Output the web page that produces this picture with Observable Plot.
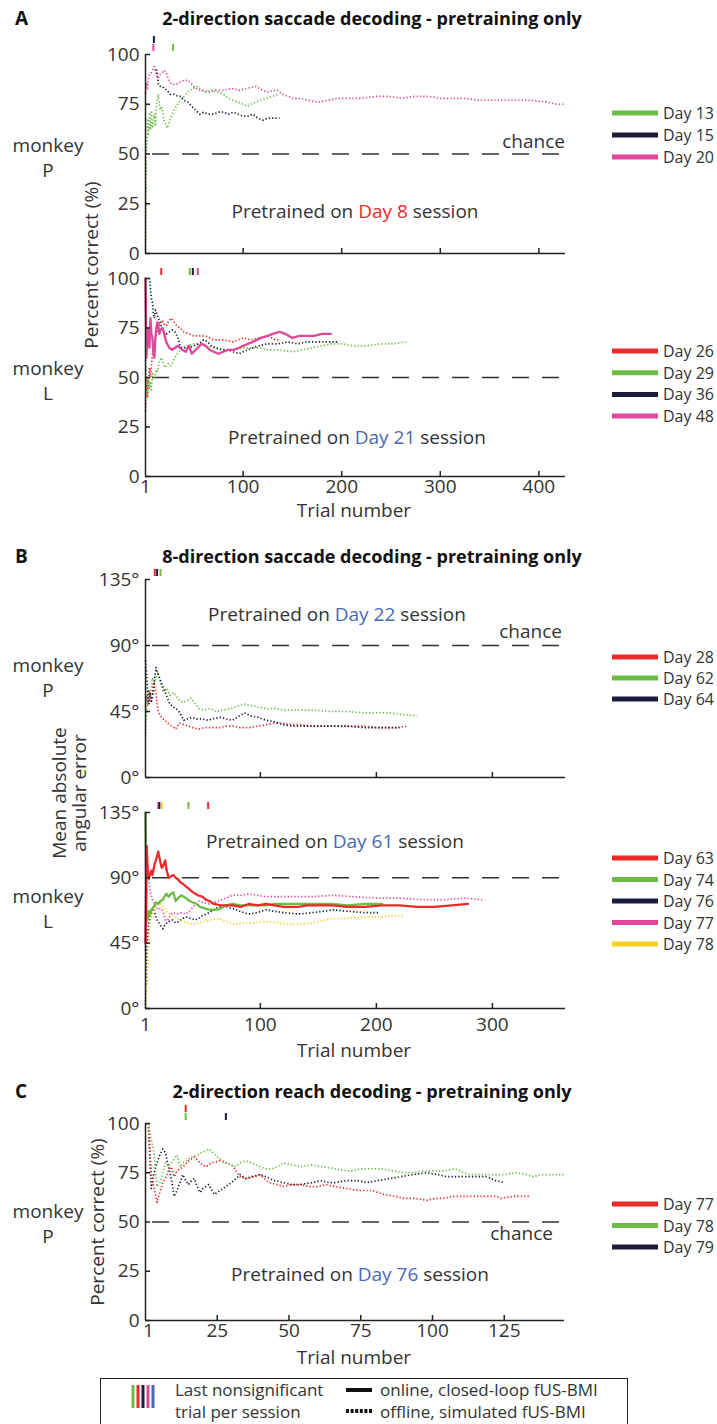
<!DOCTYPE html>
<html><head><meta charset="utf-8">
<script src="https://cdn.jsdelivr.net/npm/d3@7"></script>
<script src="https://cdn.jsdelivr.net/npm/@observablehq/plot@0.6"></script>
<style>
body{margin:0;background:#fff;}
#root{position:relative;width:717px;height:1424px;overflow:hidden;font-family:"Open Sans",sans-serif;background:#fff;}
#root svg{position:absolute;left:0;}
</style></head><body><div id="root"></div>
<script>
const GREEN="#6cbd45", NAVY="#1c1c3c", PINK="#e0479a", RED="#ec2a2a", YELLOW="#f6d11f", BLUE="#4a68b6", TXT="#333";

// ---------- Panel A top: monkey P, 2-direction saccade ----------
const a1_day13 = [[1,0],[2,50],[3,67],[4,60],[5,70],[6,62],[7,71],[8,63],[9,67],[10,70],[11,64],[12,75],[13,77],[14,80],[15,75],[16,72],[17,74],[18,72],[20,67],[22,64],[23,63],[25,66],[28,70],[31,73],[35,76],[40,79],[45,82],[50,83],[54,84],[58,82],[62,81],[66,82],[70,82],[75,81],[80,80],[85,78],[90,77],[95,76],[100,75],[104,74],[108,75],[113,76],[118,77],[124,78],[130,79],[135,80]];
const a1_day15 = [[11,92],[12,93],[13,90],[14,85],[16,84],[18,84],[20,83],[23,82],[26,80],[30,80],[34,79],[37,79],[40,77],[44,76],[48,74],[52,72],[56,70],[60,71],[65,70],[70,70],[75,71],[80,71],[85,70],[90,71],[95,70],[100,69],[105,69],[110,70],[115,68],[120,67],[125,68],[130,68],[137,68]];
const a1_day20 = [[1,80],[2,86],[3,83],[4,88],[5,90],[7,91],[9,93],[10,94],[12,90],[14,88],[16,90],[18,91],[20,92],[22,91],[24,88],[26,86],[28,85],[32,85],[36,86],[40,87],[44,87],[48,85],[52,83],[56,82],[60,82],[66,81],[72,82],[80,82],[88,83],[96,82],[104,83],[113,84],[120,82],[125,81],[130,82],[135,82],[140,80],[145,79],[150,78],[158,78],[166,77],[176,76],[186,77],[196,78],[206,78],[220,78],[235,79],[247,79],[260,78],[275,79],[287,79],[300,78],[312,78],[324,78],[340,77],[355,77],[375,77],[392,77],[409,76],[418,75],[425,75]];
const a1_sig = [{trial:9,color:PINK,row:0},{trial:9.5,color:NAVY,row:1},{trial:29,color:GREEN,row:0}];
const a1_legend = [["Day 13",GREEN],["Day 15",NAVY],["Day 20",PINK]];

// ---------- Panel A bottom: monkey L ----------
const a2_day26 = [[1,33],[2,50],[3,40],[4,48],[5,55],[6,50],[8,62],[10,68],[12,72],[14,75],[16,77],[18,79],[20,77],[22,76],[24,78],[27,80],[30,78],[33,76],[36,75],[40,73],[45,72],[50,71],[55,71],[62,71],[70,69],[80,69],[90,68],[100,70],[108,69],[116,70],[125,71],[133,69],[138,69]];
const a2_day29 = [[1,66],[2,50],[3,40],[4,50],[5,44],[6,48],[7,43],[8,52],[10,50],[12,54],[13,53],[15,58],[17,60],[19,57],[21,55],[24,57],[27,56],[30,59],[33,62],[37,64],[41,66],[45,66],[50,67],[55,67],[60,66],[70,65],[83,64],[92,64],[100,65],[108,65],[116,65],[125,64],[135,64],[150,63],[160,64],[170,65],[180,66],[190,67],[200,67],[212,66],[225,66],[240,67],[252,67],[265,68]];
const a2_day36 = [[1,100],[3,100],[5,100],[6,95],[7,90],[8,88],[9,82],[10,80],[11,84],[12,83],[14,80],[16,77],[18,75],[20,73],[22,72],[25,73],[28,74],[31,73],[34,70],[36,66],[38,65],[42,65],[46,65],[50,66],[55,67],[60,69],[64,68],[68,66],[72,65],[78,64],[85,64],[90,63],[96,62],[100,63],[105,64],[110,65],[116,66],[125,67],[135,67],[145,68],[155,67],[165,68],[175,68],[185,68],[196,68]];
const a2_day48 = [[1,100],[2,60],[3,75],[4,70],[5,65],[6,80],[7,72],[8,70],[9,62],[10,60],[11,70],[12,75],[13,78],[14,76],[15,72],[16,74],[18,75],[20,72],[22,68],[25,65],[28,64],[31,65],[34,66],[38,64],[42,63],[45,66],[48,62],[52,64],[58,67],[62,66],[66,64],[70,63],[75,62],[80,63],[85,64],[90,64],[96,65],[100,66],[105,67],[110,68],[118,70],[125,71],[130,72],[137,73],[143,72],[150,70],[157,71],[165,71],[172,71],[180,72],[189,72]];
const a2_sig = [{trial:17,color:RED,row:0},{trial:46,color:GREEN,row:0},{trial:49,color:NAVY,row:0},{trial:54,color:PINK,row:0}];
const a2_legend = [["Day 26",RED],["Day 29",GREEN],["Day 36",NAVY],["Day 48",PINK]];

// ---------- Panel B top: monkey P, 8-direction saccade ----------
const b1_day28 = [[1,48],[2,55],[3,50],[4,60],[5,55],[6,52],[7,58],[8,65],[9,62],[10,58],[11,50],[12,45],[14,42],[16,40],[18,39],[20,37],[22,36],[24,35],[27,33],[30,37],[32,37],[34,36],[38,35],[42,34],[47,33],[52,34],[58,34],[65,34],[70,35],[76,35],[83,34],[90,34],[98,35],[105,36],[112,37],[119,37],[126,36],[135,36],[145,35],[155,35],[162,35],[175,35],[190,35],[200,34],[210,34],[218,34],[226,35]];
const b1_day62 = [[1,30],[2,45],[3,60],[4,58],[5,55],[6,62],[7,68],[8,66],[9,65],[10,68],[11,70],[12,72],[13,68],[14,65],[16,59],[18,60],[19,61],[21,58],[22,56],[24,57],[25,58],[27,56],[30,53],[33,51],[36,52],[40,54],[44,50],[47,47],[52,46],[57,47],[62,45],[68,46],[75,47],[82,49],[87,50],[92,49],[98,48],[105,47],[112,47],[120,46],[133,46],[145,46],[160,45],[176,45],[190,44],[200,44],[212,44],[222,43],[235,42]];
const b1_day64 = [[1,80],[2,70],[3,55],[4,50],[5,58],[6,52],[7,55],[8,60],[9,68],[10,75],[11,72],[12,70],[14,66],[16,62],[18,58],[20,54],[22,50],[25,48],[29,46],[32,42],[34,39],[37,40],[41,41],[45,40],[50,40],[55,39],[59,40],[65,41],[70,40],[76,39],[82,42],[86,44],[92,42],[98,41],[105,39],[112,38],[120,36],[128,35],[140,35],[150,35],[162,35],[175,35],[190,34],[205,34],[220,34]];
const b1_sig = [{trial:9,color:RED,row:0},{trial:11,color:NAVY,row:0},{trial:14,color:GREEN,row:0}];
const b1_legend = [["Day 28",RED],["Day 62",GREEN],["Day 64",NAVY]];

// ---------- Panel B bottom: monkey L ----------
const b2_day63 = [[1,45],[2,112],[3,95],[4,90],[5,92],[6,95],[7,92],[8,96],[9,100],[10,102],[11,105],[12,108],[13,104],[14,100],[15,97],[16,98],[17,100],[18,102],[19,96],[21,90],[23,91],[25,92],[27,90],[29,89],[31,87],[33,86],[36,84],[39,82],[42,80],[46,78],[50,77],[53,75],[56,74],[60,72],[66,71],[72,71],[76,71],[83,70],[90,72],[98,71],[105,72],[112,71],[120,70],[127,70],[133,70],[140,71],[150,71],[162,71],[175,70],[190,70],[205,71],[220,71],[235,70],[250,70],[265,71],[279,72]];
const b2_day74 = [[1,135],[2,60],[3,62],[4,67],[5,65],[6,68],[8,70],[10,73],[12,72],[14,74],[16,75],[18,78],[19,79],[21,77],[23,79],[25,80],[27,74],[29,76],[32,78],[34,77],[36,76],[39,74],[42,73],[45,72],[48,70],[52,69],[56,68],[62,68],[66,69],[70,71],[76,72],[83,71],[90,71],[98,71],[105,71],[112,72],[120,72],[133,72],[145,72],[162,72],[175,71],[190,72],[205,72]];
const b2_day76 = [[1,0],[2,40],[3,52],[4,60],[5,64],[6,66],[7,68],[8,70],[9,66],[10,63],[11,61],[12,60],[14,57],[16,55],[18,58],[21,60],[24,61],[27,59],[30,60],[33,62],[36,63],[40,62],[44,61],[47,62],[50,64],[53,65],[56,66],[60,68],[64,70],[70,70],[76,69],[82,67],[90,65],[97,66],[105,68],[112,67],[120,66],[133,65],[145,66],[155,67],[162,68],[175,67],[190,66],[203,66]];
const b2_day77 = [[1,40],[2,88],[3,95],[4,88],[5,81],[6,78],[7,75],[8,73],[10,70],[12,68],[14,69],[16,67],[18,62],[19,59],[21,62],[23,65],[25,66],[28,65],[32,66],[36,65],[40,68],[44,72],[47,74],[50,73],[56,72],[60,73],[64,74],[70,76],[76,78],[83,78],[90,79],[97,78],[105,77],[115,77],[125,77],[133,77],[145,77],[162,78],[180,77],[200,76],[220,76],[240,75],[260,75],[275,76],[291,75]];
const b2_day78 = [[1,0],[2,10],[3,33],[4,49],[5,60],[6,63],[8,67],[10,70],[12,74],[14,72],[16,70],[19,67],[22,65],[25,64],[29,62],[33,60],[37,59],[42,58],[47,59],[53,60],[58,61],[64,62],[70,60],[76,58],[85,59],[95,59],[105,60],[115,59],[125,58],[133,58],[145,59],[162,62],[175,62],[190,63],[205,63],[215,64],[223,64]];
const b2_sig = [{trial:12,color:PINK,row:0},{trial:13,color:NAVY,row:0},{trial:15,color:YELLOW,row:0},{trial:38,color:GREEN,row:0},{trial:55,color:RED,row:0}];
const b2_legend = [["Day 63",RED],["Day 74",GREEN],["Day 76",NAVY],["Day 77",PINK],["Day 78",YELLOW]];

// ---------- Panel C: monkey P, 2-direction reach ----------
const c_day77 = [[1,100],[2,75],[3,67],[4,60],[5,65],[6,70],[7,72],[8,76],[9,78],[10,73],[11,76],[13,78],[15,81],[17,83],[19,80],[21,78],[23,80],[26,81],[28,80],[30,79],[33,73],[35,72],[38,73],[40,74],[43,70],[46,69],[48,68],[51,69],[54,69],[57,68],[60,68],[63,69],[66,68],[70,67],[74,66],[77,66],[79,66],[83,64],[87,63],[90,62],[94,62],[98,61],[101,62],[104,62],[107,63],[110,63],[114,63],[119,63],[122,63],[124,62],[128,63],[131,63],[134,63]];
const c_day78 = [[1,100],[2,92],[3,85],[4,68],[5,70],[6,75],[7,80],[8,78],[9,80],[10,82],[11,84],[12,78],[13,80],[14,81],[16,83],[18,84],[19,85],[21,86],[22,87],[23,86],[25,83],[27,81],[28,80],[30,79],[31,78],[33,80],[35,81],[37,80],[40,78],[42,77],[44,77],[46,78],[48,80],[51,79],[54,78],[58,79],[62,78],[66,77],[70,76],[72,76],[75,77],[78,77],[82,77],[86,76],[90,75],[93,75],[97,76],[101,76],[104,76],[108,77],[111,75],[113,74],[117,74],[121,74],[125,74],[129,75],[133,74],[135,73],[138,74],[142,74],[146,74]];
const c_day79 = [[1,100],[2,67],[3,75],[4,80],[5,84],[6,87],[7,85],[8,78],[9,72],[10,63],[11,66],[12,70],[13,74],[14,71],[15,69],[16,71],[17,72],[18,68],[19,65],[20,67],[22,69],[24,64],[26,66],[28,68],[30,70],[33,74],[35,72],[37,73],[40,74],[42,73],[45,71],[48,70],[51,69],[54,69],[58,70],[61,71],[64,70],[66,70],[70,71],[74,71],[77,70],[81,71],[85,72],[89,73],[93,74],[98,75],[102,74],[105,73],[109,73],[113,73],[117,73],[119,73],[122,71],[125,70]];
const c_sig = [{trial:14,color:GREEN,row:0},{trial:14,color:RED,row:1},{trial:28,color:NAVY,row:0}];
const c_legend = [["Day 77",RED],["Day 78",GREEN],["Day 79",NAVY]];

const pctTicks = [0,25,50,75,100];
const degTicks = [0,45,90,135];

const root = document.getElementById("root");
const DOT = {strokeWidth:1.7, strokeDasharray:"1.3,2.1", strokeLinecap:"butt"};
const SOLID = {strokeWidth:2.3};

function panel(o){
  const L=145, R=o.right||565;
  const h = o.mt + (o.bottom - o.top) + o.mb;
  const pxX = (R-L)/(o.x[1]-o.x[0]);
  const pxY = (o.bottom-o.top)/(o.y[1]-o.y[0]);
  const ux = 1/pxX, uy = 1/pxY;
  const marks = [];
  marks.push(Plot.ruleY([o.chance], {stroke:"#333", strokeWidth:1.5, strokeDasharray:"17,13", strokeDashoffset:23}));
  for (const s of o.series) {
    marks.push(Plot.line(s.data, {x:d=>d[0], y:d=>d[1], stroke:s.color, ...(s.solid?SOLID:DOT)}));
  }
  marks.push(Plot.ruleX(o.sig, {x:"trial", y1:d=>o.y[1]+(3+d.row*8)*uy, y2:d=>o.y[1]+(10+d.row*8)*uy, stroke:"color", strokeWidth:2}));
  marks.push(Plot.ruleY([o.y[0]], {stroke:"#222", strokeWidth:1.5}));
  marks.push(Plot.ruleX([o.x[0]], {y1:o.y[0], y2:o.y[1], stroke:"#222", strokeWidth:1.5}));
  marks.push(Plot.ruleY(o.yTicks, {y:d=>d, x1:o.x[0], x2:o.x[0]+5*ux, stroke:"#222", strokeWidth:1.5}));
  marks.push(Plot.ruleX(o.xTicks, {x:d=>d, y1:o.y[0], y2:o.y[0]+5*uy, stroke:"#222", strokeWidth:1.5}));
  marks.push(Plot.axisY({ticks:o.yTicks, tickSize:0, tickPadding:6, tickFormat:o.yFmt||(d=>d), label:null}));
  if (o.xLabels) marks.push(Plot.axisX({ticks:o.xLabels, tickSize:0, tickPadding:o.labelPad, tickFormat:d=>d, label:null}));
  else marks.push(Plot.axisX({ticks:[], tickSize:0, label:null}));
  const svg = Plot.plot({
    width:717, height:h, marginLeft:L, marginRight:717-R, marginTop:o.mt, marginBottom:o.mb,
    x:{domain:o.x}, y:{domain:o.y}, color:{type:"identity"},
    style:{background:"transparent", color:TXT, fontSize:"19px", fontFamily:'"Open Sans", sans-serif', overflow:"visible"},
    marks
  });
  svg.style.top = (o.top - o.mt) + "px";
  svg.style.position = "absolute";
  root.appendChild(svg);
}

panel({top:54, bottom:253, mt:30, mb:10, x:[1,427], y:[0,100], chance:50, yTicks:pctTicks, xTicks:[100,200,300,400],
  series:[{data:a1_day13,color:GREEN},{data:a1_day15,color:NAVY},{data:a1_day20,color:PINK}], sig:a1_sig});
panel({top:278, bottom:476, mt:20, mb:30, x:[1,427], y:[0,100], chance:50, yTicks:pctTicks, xTicks:[100,200,300,400], xLabels:[1,100,200,300,400], labelPad:3,
  series:[{data:a2_day26,color:RED},{data:a2_day29,color:GREEN},{data:a2_day36,color:NAVY},{data:a2_day48,color:PINK,solid:true}], sig:a2_sig});
panel({top:579, bottom:777, mt:20, mb:10, x:[1,363], y:[0,135], chance:90, yTicks:degTicks, yFmt:d=>d+"°", xTicks:[100,200,300],
  series:[{data:b1_day28,color:RED},{data:b1_day62,color:GREEN},{data:b1_day64,color:NAVY}], sig:b1_sig});
panel({top:812, bottom:1008, mt:20, mb:36, x:[1,363], y:[0,135], chance:90, yTicks:degTicks, yFmt:d=>d+"°", xTicks:[100,200,300], xLabels:[1,100,200,300], labelPad:9,
  series:[{data:b2_day76,color:NAVY},{data:b2_day78,color:YELLOW},{data:b2_day77,color:PINK},{data:b2_day74,color:GREEN,solid:true},{data:b2_day63,color:RED,solid:true}], sig:b2_sig});
panel({top:1123, bottom:1320, mt:25, mb:30, x:[0,146], y:[0,100], chance:50, right:564, yTicks:pctTicks, xTicks:[25,50,75,100,125], xLabels:[1,25,50,75,100,125], labelPad:3,
  series:[{data:c_day79,color:NAVY},{data:c_day77,color:RED},{data:c_day78,color:GREEN}], sig:c_sig});

// ---------- overlay texts & legends ----------
const ov = d3.select(root).append("svg").attr("width",717).attr("height",1424)
  .style("top","0px").style("left","0px").style("position","absolute")
  .attr("font-family",'"Open Sans", sans-serif');
function t(x,y,s,o={}){
  const e = ov.append("text").attr("x",x).attr("y",y).text(s)
    .attr("font-size",o.size||19).attr("fill",o.fill||TXT)
    .attr("text-anchor",o.anchor||"start").attr("font-weight",o.weight||"normal");
  if (o.rotate) e.attr("transform",`rotate(-90 ${x} ${y})`);
  return e;
}
const titles = [["A",25,"2-direction saccade decoding - pretraining only"],["B",563,"8-direction saccade decoding - pretraining only"],["C",1098,"2-direction reach decoding - pretraining only"]];
for (const [L,y,s] of titles){ t(15,y,L,{weight:"bold",fill:"#111"}); t(372,y,s,{weight:"bold",fill:"#111",size:18,anchor:"middle"}); }
for (const [y,m] of [[152,"P"],[375,"L"],[672,"P"],[903,"L"],[1218,"P"]]) { t(48,y,"monkey",{anchor:"middle"}); t(48,y+25,m,{anchor:"middle"}); }
function note(cx,y,day,col){
  const e = t(cx,y,"",{anchor:"middle"});
  e.append("tspan").text("Pretrained on ");
  e.append("tspan").attr("fill",col).text(day);
  e.append("tspan").text(" session");
}
note(355,218,"Day 8",RED); note(357,444,"Day 21",BLUE); note(337,621,"Day 22",BLUE); note(335,848,"Day 61",BLUE); note(360,1281,"Day 76",BLUE);
t(565,148,"chance",{anchor:"end"}); t(562,638,"chance",{anchor:"end"}); t(553,1240,"chance",{anchor:"end"});
t(354,517,"Trial number",{anchor:"middle"}); t(354,1057,"Trial number",{anchor:"middle"}); t(354,1364,"Trial number",{anchor:"middle"});
t(98,265,"Percent correct (%)",{anchor:"middle",rotate:true});
t(66,793,"Mean absolute",{anchor:"middle",rotate:true});
t(86,793,"angular error",{anchor:"middle",rotate:true});
t(104,1222,"Percent correct (%)",{anchor:"middle",rotate:true});
function legend(items,y0,dy){
  items.forEach(([lab,col],i)=>{
    const y = y0+i*dy;
    ov.append("line").attr("x1",612).attr("x2",658).attr("y1",y).attr("y2",y).attr("stroke",col).attr("stroke-width",5);
    t(663,y+6,lab,{size:16});
  });
}
legend(a1_legend,113,22); legend(a2_legend,351,21.7); legend(b1_legend,657,21); legend(b2_legend,858,21.5); legend(c_legend,1204,21.5);
ov.append("rect").attr("x",100.5).attr("y",1378.5).attr("width",527).attr("height",50).attr("fill","none").attr("stroke","#222").attr("stroke-width",1);
[GREEN,RED,NAVY,PINK,BLUE].forEach((c,i)=>ov.append("line").attr("x1",133+i*5).attr("x2",133+i*5).attr("y1",1385).attr("y2",1408).attr("stroke",c).attr("stroke-width",3));
t(175,1396,"Last nonsignificant",{size:17}); t(175,1418,"trial per session",{size:17});
ov.append("line").attr("x1",346).attr("x2",372).attr("y1",1390).attr("y2",1390).attr("stroke","#111").attr("stroke-width",4);
ov.append("line").attr("x1",346).attr("x2",372).attr("y1",1411).attr("y2",1411).attr("stroke","#111").attr("stroke-width",4).attr("stroke-dasharray","3,1.6");
t(380,1396,"online, closed-loop fUS-BMI",{size:17}); t(380,1418,"offline, simulated fUS-BMI",{size:17});
</script></body></html>
